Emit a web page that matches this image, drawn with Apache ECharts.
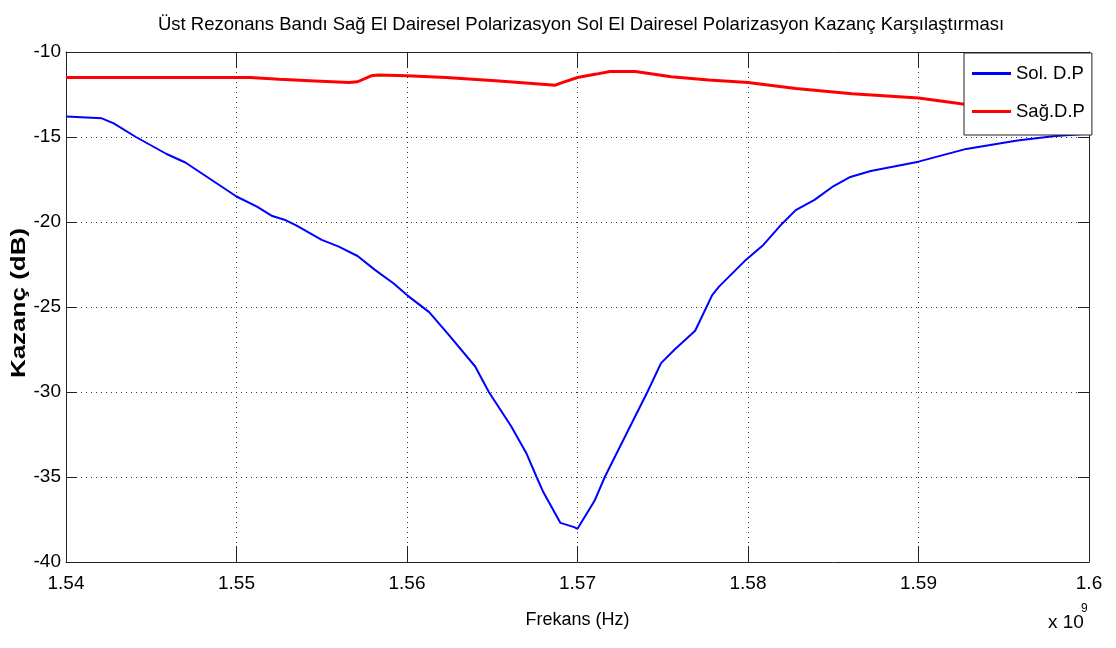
<!DOCTYPE html>
<html>
<head>
<meta charset="utf-8">
<script src="https://cdn.jsdelivr.net/npm/echarts@6/dist/echarts.min.js"></script>
<style>
  html, body { margin: 0; padding: 0; background: #fff; }
  #chart { width: 1116px; height: 648px; }
</style>
</head>
<body>
<div id="chart"></div>
<script>
// frekans degerleri x 10^9 Hz
var freqSol = [1.5400, 1.5421, 1.5428, 1.5441, 1.5459, 1.5470, 1.5500, 1.5512, 1.5521, 1.5529,
  1.5535, 1.5550, 1.5560, 1.5571, 1.5581, 1.5592, 1.5600, 1.5613, 1.5625, 1.5640,
  1.5648, 1.5661, 1.5670, 1.5676, 1.5680, 1.5690, 1.5698, 1.5700, 1.5710, 1.5716,
  1.5729, 1.5741, 1.5749, 1.5757, 1.5769, 1.5779, 1.5783, 1.5798, 1.5809, 1.5820,
  1.5828, 1.5839, 1.5850, 1.5860, 1.5872, 1.5900, 1.5928, 1.5958, 1.5979, 1.6000];
var gainSol = [-13.8, -13.9, -14.2, -15.0, -16.0, -16.5, -18.5, -19.1, -19.65, -19.9,
  -20.2, -21.05, -21.45, -22.0, -22.8, -23.6, -24.3, -25.3, -26.7, -28.5,
  -30.0, -32.0, -33.6, -35.0, -35.9, -37.7, -37.95, -38.05, -36.4, -35.0,
  -32.4, -30.0, -28.3, -27.5, -26.4, -24.3, -23.8, -22.3, -21.35, -20.1,
  -19.3, -18.7, -17.9, -17.35, -17.0, -16.45, -15.7, -15.2, -14.95, -14.8];

var freqSag = [1.5400, 1.5508, 1.5525, 1.5546, 1.5566, 1.5571, 1.5579, 1.5583, 1.5600, 1.5623,
  1.5654, 1.5687, 1.5691, 1.5700, 1.5711, 1.5719, 1.5734, 1.5755, 1.5777, 1.5800,
  1.5828, 1.5861, 1.5900, 1.5925, 1.5950, 1.6000];
var gainSag = [-11.5, -11.5, -11.6, -11.7, -11.8, -11.75, -11.4, -11.35, -11.4, -11.5,
  -11.7, -11.95, -11.8, -11.5, -11.3, -11.15, -11.15, -11.45, -11.65, -11.8,
  -12.15, -12.45, -12.7, -13.05, -13.3, -13.6];

var xTicks = [1.54, 1.55, 1.56, 1.57, 1.58, 1.59, 1.6];
var yTicks = [-40, -35, -30, -25, -20, -15, -10];

var font = '"Liberation Sans Narrow", "Liberation Sans", Arial, sans-serif';

var myChart = echarts.init(document.getElementById('chart'));

var solData = freqSol.map(function (f, i) { return [f, gainSol[i]]; });
var sagData = freqSag.map(function (f, i) { return [f, gainSag[i]]; });

var dotted = { color: '#333', width: 1, type: [1, 4] };
var boxLine = { show: true, onZero: false, lineStyle: { color: '#222', width: 1 } };

var options = {
  backgroundColor: '#fff',
  animation: false,
  title: {
    text: 'Üst Rezonans Bandı Sağ El Dairesel Polarizasyon Sol El Dairesel Polarizasyon Kazanç Karşılaştırması',
    left: 576,
    textAlign: 'center',
    top: 10,
    textStyle: { fontFamily: font, fontSize: 18.5, fontWeight: 'normal', color: '#000' }
  },
  grid: { left: 66, right: 27, top: 52, bottom: 86, outerBoundsMode: 'none' },
  legend: {
    data: ['Sol. D.P', 'Sağ.D.P'],
    orient: 'vertical',
    left: 964,
    top: 53,
    icon: 'rect',
    itemWidth: 39,
    itemHeight: 3,
    itemGap: 19,
    padding: [11, 7, 14, 8],
    backgroundColor: '#fff',
    borderColor: '#222',
    borderWidth: 1,
    borderRadius: 0,
    textStyle: { fontFamily: font, fontSize: 18.5, color: '#000' }
  },
  xAxis: [{
    type: 'value',
    min: xTicks[0],
    max: xTicks[xTicks.length - 1],
    interval: 0.01,
    position: 'bottom',
    name: 'Frekans (Hz)',
    nameLocation: 'middle',
    nameGap: 49,
    nameTextStyle: { fontFamily: font, fontSize: 18, color: '#000' },
    axisLine: boxLine,
    axisTick: { show: true, inside: true, length: 16, lineStyle: { color: '#222' } },
    axisLabel: {
      fontFamily: font, fontSize: 19, color: '#000', margin: 12,
      formatter: function (v) { return String(+v.toFixed(2)); }
    },
    splitLine: { show: true, lineStyle: dotted }
  }, {
    type: 'value',
    min: xTicks[0],
    max: xTicks[xTicks.length - 1],
    interval: 0.01,
    position: 'top',
    axisLine: boxLine,
    axisTick: { show: true, inside: true, length: 15, lineStyle: { color: '#222' } },
    axisLabel: { show: false },
    splitLine: { show: false }
  }],
  yAxis: [{
    type: 'value',
    min: yTicks[0],
    max: yTicks[yTicks.length - 1],
    interval: 5,
    position: 'left',
    axisLine: boxLine,
    axisTick: { show: true, inside: true, length: 11, lineStyle: { color: '#222' } },
    axisLabel: { fontFamily: font, fontSize: 19, color: '#000', margin: 5 },
    splitLine: { show: true, lineStyle: dotted }
  }, {
    type: 'value',
    min: yTicks[0],
    max: yTicks[yTicks.length - 1],
    interval: 5,
    position: 'right',
    axisLine: boxLine,
    axisTick: { show: true, inside: true, length: 11, lineStyle: { color: '#222' } },
    axisLabel: { show: false },
    splitLine: { show: false }
  }],
  graphic: [
    // y ekseni basligi, orijinaldeki gibi uzatilmis
    {
      type: 'text', x: 19, y: 303, rotation: Math.PI / 2, scaleX: 1.3,
      style: {
        text: 'Kazanç (dB)', fontFamily: '"Liberation Sans", Arial, sans-serif',
        fontSize: 20, fontWeight: 'bold', fill: '#000', align: 'center', verticalAlign: 'middle'
      }
    },
    { type: 'text', left: 1048, top: 613, style: { text: 'x 10', fontFamily: font, fontSize: 19, fill: '#000' } },
    { type: 'text', left: 1081, top: 603, style: { text: '9', fontFamily: font, fontSize: 12, fill: '#000' } }
  ],
  series: [{
    name: 'Sol. D.P',
    type: 'line',
    showSymbol: false,
    lineStyle: { color: '#0000ff', width: 2 },
    itemStyle: { color: '#0000ff' },
    data: solData
  }, {
    name: 'Sağ.D.P',
    type: 'line',
    showSymbol: false,
    lineStyle: { color: '#ff0000', width: 3 },
    itemStyle: { color: '#ff0000' },
    data: sagData
  }]
};

myChart.setOption(options, true);
</script>
</body>
</html>
